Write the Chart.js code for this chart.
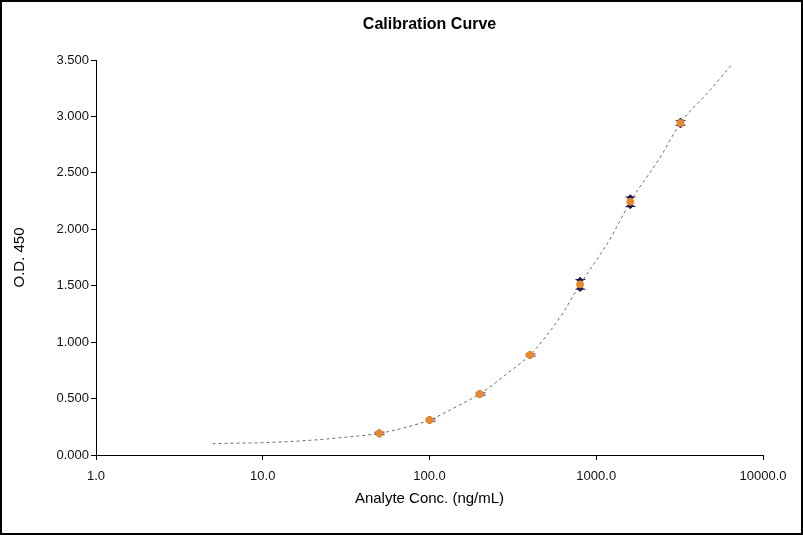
<!DOCTYPE html>
<html lang="en">
<head>
    <meta charset="UTF-8">
    <title>Calibration Curve</title>
    <script src="https://cdn.jsdelivr.net/npm/chart.js"></script>
    <style>
        body { margin: 0; background: #fff; }
    </style>
</head>
<body>
<canvas id="calChart" width="803" height="535"></canvas>
<script>
    // standards (ng/mL) and measured O.D. 450
    const concentrations = [50, 100, 200, 400, 800, 1600, 3200];
    const meanOD = [0.192, 0.310, 0.540, 0.886, 1.512, 2.244, 2.942];
    const errOD = [0.010, 0.010, 0.010, 0.010, 0.043, 0.042, 0.020];

    // fitted curve
    const curveConc = [5, 7, 10, 20, 30, 50, 70, 100, 150, 200, 300, 400, 600, 800, 1200, 1600, 2400, 3200, 4800, 6400];
    const curveOD = [0.100, 0.105, 0.109, 0.132, 0.155, 0.192, 0.240, 0.310, 0.440, 0.540, 0.735, 0.886, 1.210, 1.512, 1.905, 2.244, 2.630, 2.942, 3.230, 3.450];

    const xTicks = [1, 10, 100, 1000, 10000];

    const frameAndTitle = {
        id: 'frameAndTitle',
        beforeDraw(chart) {
            const ctx = chart.ctx;
            ctx.save();
            ctx.fillStyle = '#fff';
            ctx.fillRect(0, 0, chart.width, chart.height);
            ctx.restore();
        },
        afterDraw(chart) {
            const ctx = chart.ctx;
            const area = chart.chartArea;
            ctx.save();
            ctx.strokeStyle = '#000';
            ctx.lineWidth = 2;
            ctx.strokeRect(1, 1, chart.width - 2, chart.height - 2);
            ctx.fillStyle = '#000';
            ctx.font = 'bold 16px "Liberation Sans", Arial, sans-serif';
            ctx.textAlign = 'center';
            ctx.textBaseline = 'middle';
            ctx.fillText('Calibration Curve', (area.left + area.right) / 2, 25);
            ctx.restore();
        }
    };

    // error bars go under the markers
    const errorBars = {
        id: 'errorBars',
        beforeDatasetsDraw(chart) {
            const ctx = chart.ctx;
            const xs = chart.scales.x;
            const ys = chart.scales.y;
            ctx.save();
            ctx.strokeStyle = '#2a1a6a';
            ctx.lineWidth = 1;
            concentrations.forEach((c, i) => {
                const px = Math.round(xs.getPixelForValue(c)) + 0.5;
                const top = ys.getPixelForValue(meanOD[i] + errOD[i]);
                const bot = ys.getPixelForValue(meanOD[i] - errOD[i]);
                ctx.beginPath();
                ctx.moveTo(px, top);
                ctx.lineTo(px, bot);
                ctx.moveTo(px - 5, top);
                ctx.lineTo(px + 5, top);
                ctx.moveTo(px - 5, bot);
                ctx.lineTo(px + 5, bot);
                ctx.stroke();
            });
            ctx.restore();
        }
    };

    new Chart(document.getElementById('calChart').getContext('2d'), {
        type: 'scatter',
        data: {
            datasets: [
                {
                    label: 'Fit',
                    data: curveConc.map((c, i) => ({ x: c, y: curveOD[i] })),
                    showLine: true,
                    borderColor: '#6e6e6e',
                    borderWidth: 1,
                    borderDash: [3, 3],
                    cubicInterpolationMode: 'monotone',
                    pointRadius: 0,
                    order: 3
                },
                {
                    label: 'Replicates',
                    data: concentrations.flatMap((c, i) => [
                        { x: c, y: meanOD[i] + errOD[i] * 0.85 },
                        { x: c, y: meanOD[i] - errOD[i] * 0.85 }
                    ]),
                    backgroundColor: '#1c0f4f',
                    borderColor: '#1c0f4f',
                    pointStyle: 'rectRot',
                    pointRadius: 3,
                    order: 2
                },
                {
                    label: 'Mean',
                    data: concentrations.map((c, i) => ({ x: c, y: meanOD[i] })),
                    backgroundColor: '#e8892e',
                    borderColor: '#e8892e',
                    pointStyle: 'circle',
                    pointRadius: 3.5,
                    order: 1
                }
            ]
        },
        options: {
            responsive: false,
            animation: false,
            layout: {
                padding: { top: 60, right: 40, left: 0, bottom: 0 }
            },
            scales: {
                x: {
                    type: 'logarithmic',
                    min: 1,
                    max: 10000,
                    afterBuildTicks: (scale) => {
                        scale.ticks = xTicks.map(v => ({ value: v }));
                    },
                    afterFit: (scale) => { scale.height = 80; },
                    ticks: {
                        color: '#111',
                        font: { family: '"Liberation Sans", Arial, sans-serif', size: 13 },
                        padding: 9,
                        maxRotation: 0,
                        autoSkip: false,
                        callback: (v) => Number(v).toFixed(1)
                    },
                    grid: {
                        display: true,
                        drawOnChartArea: false,
                        drawTicks: true,
                        tickLength: 5,
                        color: '#000'
                    },
                    border: { display: true, color: '#000', width: 1 },
                    title: {
                        display: true,
                        text: 'Analyte Conc. (ng/mL)',
                        color: '#000',
                        font: { family: '"Liberation Sans", Arial, sans-serif', size: 15 },
                        padding: { top: 0, bottom: 27 }
                    }
                },
                y: {
                    min: 0,
                    max: 3.5,
                    afterFit: (scale) => { scale.width = 96; },
                    ticks: {
                        stepSize: 0.5,
                        color: '#111',
                        font: { family: '"Liberation Sans", Arial, sans-serif', size: 13 },
                        padding: 2,
                        callback: (v) => Number(v).toFixed(3)
                    },
                    grid: {
                        display: true,
                        drawOnChartArea: false,
                        drawTicks: true,
                        tickLength: 5,
                        color: '#000'
                    },
                    border: { display: true, color: '#000', width: 1 },
                    title: {
                        display: true,
                        text: 'O.D. 450',
                        color: '#000',
                        font: { family: '"Liberation Sans", Arial, sans-serif', size: 15 },
                        padding: { top: 11, bottom: 0 }
                    }
                }
            },
            plugins: {
                legend: { display: false },
                tooltip: { enabled: false }
            }
        },
        plugins: [frameAndTitle, errorBars]
    });
</script>
</body>
</html>
